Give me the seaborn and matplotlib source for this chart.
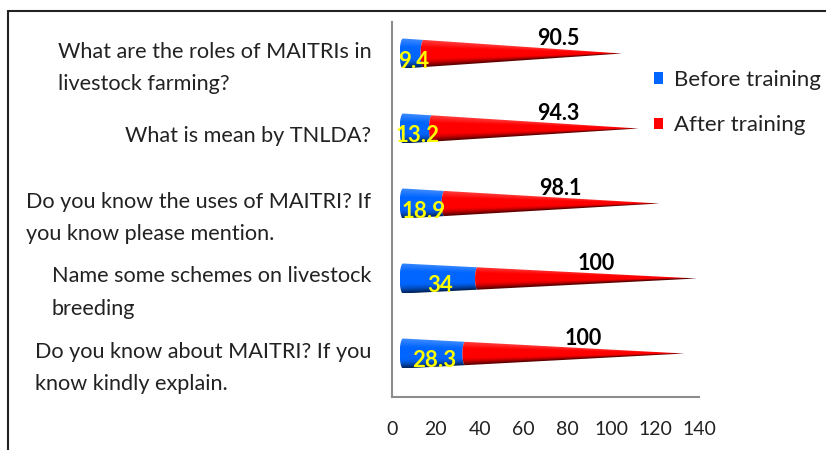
#!/usr/bin/env python3

import numpy as np
import matplotlib
matplotlib.use("Agg")
import matplotlib.pyplot as plt
from matplotlib.patches import Polygon, Patch
from matplotlib.lines import Line2D
from matplotlib.colors import to_rgb
import seaborn as sns

# Chart data
questions = [
    "What are the roles of MAITRIs in\nlivestock farming?",
    "What is mean by TNLDA?",
    "Do you know the uses of MAITRI? If\nyou know please mention.",
    "Name some schemes on livestock\nbreeding",
    "Do you know about MAITRI? If you\nknow kindly explain.",
]
before = [9.4, 13.2, 18.9, 34, 28.3]
after = [90.5, 94.3, 98.1, 100, 100]
series = ["Before training", "After training"]
xticks = [0, 20, 40, 60, 80, 100, 120, 140]

colors = ["#0066FF", "#FF0000"]

sns.set_style("white")
plt.rcParams['font.family'] = ['Lato', 'DejaVu Sans']

fig = plt.figure(figsize=(8.26, 4.5), dpi=100)
ax = fig.add_axes([392 / 826, 1 - 397 / 450, 307 / 826, 375 / 450])

x0 = 5.0      # cone base sits a little off the axis (3D look)
h = 0.2       # half height of cone base, in category units
a = 1.5       # width of the elliptic cap
lift = 0.08   # cones sit slightly above the band centre


def shade(base, v):
    # v: -1 at top edge, +1 at bottom edge
    rgb = np.array(to_rgb(base))
    light = np.clip((-v - 0.4) / 0.6, 0, 1) * 0.25
    dark = np.clip((v - 0.35) / 0.65, 0, 1) ** 1.6 * 0.65
    out = rgb[None, None, :] * (1 - dark[..., None])
    out = out + (1 - out) * light[..., None]
    return out


def segment(xa, xb, yc, total, color):
    def r(x):
        return h * np.clip(1 - (x - x0) / total, 0, 1)

    t = np.linspace(-np.pi / 2, np.pi / 2, 30)
    left = np.column_stack([xa - a * (r(xa) / h) * np.cos(t), yc + r(xa) * np.sin(t)])
    right = np.column_stack([xb - a * (r(xb) / h) * np.cos(t[::-1]), yc + r(xb) * np.sin(t[::-1])])
    verts = np.vstack([left, right])
    poly = Polygon(verts, closed=True, facecolor='none', edgecolor='none')
    ax.add_patch(poly)

    xl, xr = xa - a, xb
    xs = np.linspace(xl, xr, 500)
    ys = np.linspace(yc - h, yc + h, 80)
    X, Y = np.meshgrid(xs, ys)
    R = np.maximum(h * np.clip(1 - (np.maximum(X, x0) - x0) / total, 0, 1), 1e-4)
    V = np.clip((Y - yc) / R, -1, 1)
    im = ax.imshow(shade(color, V), extent=(xl, xr, yc + h, yc - h),
                   origin='upper', aspect='auto', interpolation='bilinear', zorder=2)
    im.set_clip_path(poly)


for i, (b, f) in enumerate(zip(before, after)):
    yc = i - lift
    total = b + f
    segment(x0, x0 + b, yc, total, colors[0])
    segment(x0 + b, x0 + total, yc, total, colors[1])
    ax.text(x0 + b / 2, yc + 0.1, f"{b:g}", color="#FFFF00", fontweight='bold',
            fontsize=16, ha='center', va='center', zorder=5)
    ax.text(max(x0 + b + f / 2 + 4, 76), yc - 0.2, f"{f:g}", color="black",
            fontweight='bold', fontsize=15.5, ha='center', va='center', zorder=5)

ax.set_xlim(0, 140)
ax.set_ylim(len(questions) - 0.5, -0.5)
ax.set_xticks(xticks)
ax.set_xticklabels([str(v) for v in xticks])
ax.set_yticks(np.arange(len(questions) + 1) - 0.5)
ax.set_yticklabels([])
ax.set_yticks(np.arange(len(questions)), minor=True)
ax.set_yticklabels(questions, minor=True)
for lab in ax.get_yticklabels(minor=True):
    lab.set_multialignment('left')
    lab.set_linespacing(1.78)

ax.tick_params(axis='y', which='minor', length=0, pad=15, labelsize=15.6, labelcolor='#222222')
ax.tick_params(axis='y', which='major', length=6, width=1.5, color='#8c8c8c', direction='out')
ax.tick_params(axis='x', length=6, width=1.5, color='#8c8c8c', direction='out',
               pad=11, labelsize=14, labelcolor='#222222')
for side in ['top', 'right']:
    ax.spines[side].set_visible(False)
for side in ['left', 'bottom']:
    ax.spines[side].set_color('#8c8c8c')
    ax.spines[side].set_linewidth(1.5)
ax.grid(False)

handles = [Patch(facecolor=c, edgecolor='none') for c in colors]
fig.legend(handles, series, loc='upper left', bbox_to_anchor=(645 / 826, 1 - 61 / 450),
           frameon=False, fontsize=16, handlelength=0.4, handleheight=0.4,
           handletextpad=0.5, labelspacing=1.15, borderaxespad=0, labelcolor='#222222')

# outer frame (only top and left edges are visible in the source image)
fig.add_artist(Line2D([8 / 826, 1], [1 - 11 / 450, 1 - 11 / 450], color='#222222', lw=1.5))
fig.add_artist(Line2D([8 / 826, 8 / 826], [0, 1 - 11 / 450], color='#222222', lw=1.5))

fig.savefig("out.png", dpi=100)
